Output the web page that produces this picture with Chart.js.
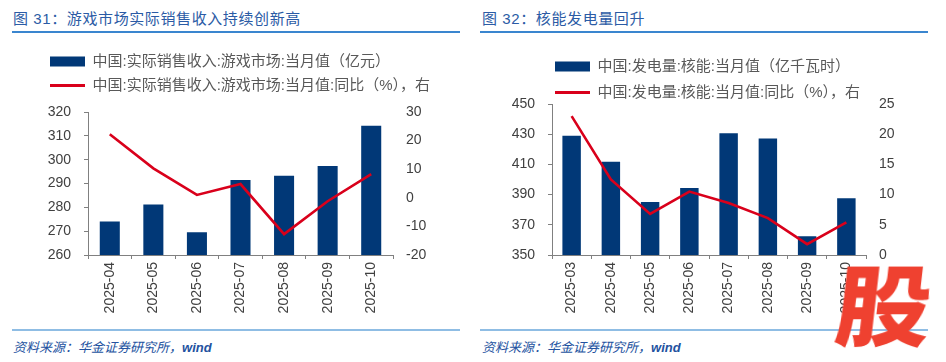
<!DOCTYPE html>
<html>
<head>
<meta charset="utf-8">
<script src="https://cdn.jsdelivr.net/npm/chart.js@4/dist/chart.umd.min.js"></script>
<style>
  body { margin: 0; width: 946px; height: 362px; background: #fff; position: relative; overflow: hidden; font-family: "Liberation Sans", "Noto Sans CJK SC", sans-serif; }
  .title { position: absolute; top: 7px; font-size: 15px; color: #2b5ba5; letter-spacing: 0.6px; font-family: "Liberation Sans", "Noto Sans CJK SC", sans-serif; }
  .rule { position: absolute; height: 2px; background: #3a86cf; }
  .rule.bottom { background: #8fbde4; }
  .source { position: absolute; top: 337px; font-size: 13px; color: #2352a0; font-style: italic; }
  .box { position: absolute; }
  .logo { position: absolute; left: 842px; top: 257px; font-size: 100px; line-height: 1; font-weight: 900; color: #ef4130;
          font-family: "Noto Sans CJK SC", sans-serif; transform-origin: 0 0; transform: scale(0.95, 0.88) skewX(-6deg); }
</style>
</head>
<body>
<div class="title" style="left:13px">图 31：游戏市场实际销售收入持续创新高</div>
<div class="rule" style="left:12px; width:448px; top:31px"></div>
<div class="title" style="left:482px">图 32：核能发电量回升</div>
<div class="rule" style="left:480px; width:448px; top:31px"></div>

<div class="box" style="left:0; top:45px; width:465px; height:270px"><canvas id="gameChart"></canvas></div>
<div class="box" style="left:470px; top:48px; width:470px; height:267px"><canvas id="nuclearChart"></canvas></div>

<div class="rule bottom" style="left:12px; width:448px; top:329px"></div>
<div class="rule bottom" style="left:480px; width:448px; top:329px"></div>
<div class="source" style="left:13px">资料来源：华金证券研究所，<b>wind</b></div>
<div class="source" style="left:482px">资料来源：华金证券研究所，<b>wind</b></div>
<div class="logo">股</div>

<script>
// 图31 游戏市场
const gameMonths = ['2025-04', '2025-05', '2025-06', '2025-07', '2025-08', '2025-09', '2025-10'];
const gameRevenue = [274.1, 281.2, 269.5, 291.5, 293.3, 297.3, 314.2];
const gameYoy = [22.2, 10.3, 1.0, 4.8, -12.7, -1.2, 8.3];

// 图32 核能发电量
const nuclearMonths = ['2025-03', '2025-04', '2025-05', '2025-06', '2025-07', '2025-08', '2025-09', '2025-10'];
const nuclearOutput = [428.9, 411.8, 385.1, 394.4, 430.7, 427.1, 362.4, 387.6];
const nuclearYoy = [23.0, 12.5, 6.8, 10.5, 8.6, 6.1, 1.8, 5.4];

const barColor = '#013877';
const lineColor = '#d9001b';
const tickColor = '#404040';
const fontFamily = '"Liberation Sans", "Noto Sans CJK SC", sans-serif';

Chart.defaults.font.family = fontFamily;
Chart.defaults.animation = false;

// 调整图例位置：与绘图区的间距、水平偏移
function legendShift(gap, dx) {
  return {
    id: 'legendShift',
    afterInit(chart) {
      const fit = chart.legend.fit;
      chart.legend.fit = function () {
        fit.call(this);
        this.height += gap;
      };
    },
    afterLayout(chart) {
      chart.legend.left += dx;
      chart.legend.right += dx;
    }
  };
}

function makeChart(id, s) {
  return new Chart(document.getElementById(id), {
    data: {
      labels: s.labels,
      datasets: [
        {
          type: 'bar',
          label: s.barLabel,
          data: s.bars,
          backgroundColor: barColor,
          barPercentage: s.barPct,
          categoryPercentage: 1,
          yAxisID: 'y',
          order: 1
        },
        {
          type: 'line',
          label: s.lineLabel,
          data: s.line,
          borderColor: lineColor,
          backgroundColor: lineColor,
          borderWidth: 2.6,
          pointRadius: 0,
          tension: 0,
          yAxisID: 'y1',
          order: 0
        }
      ]
    },
    options: {
      responsive: true,
      maintainAspectRatio: false,
      layout: { padding: s.padding },
      plugins: {
        tooltip: { enabled: false },
        legend: {
          position: 'top',
          align: 'start',
          labels: {
            usePointStyle: true,
            pointStyleWidth: 35,
            boxHeight: 10,
            padding: s.legendPad,
            color: '#595959',
            font: { size: 15, family: fontFamily },
            generateLabels: (chart) => chart.data.datasets.map((ds, i) => ({
              text: ds.label,
              fillStyle: ds.backgroundColor,
              strokeStyle: ds.type === 'line' ? ds.borderColor : ds.backgroundColor,
              lineWidth: ds.type === 'line' ? 3 : 0,
              pointStyle: ds.type === 'line' ? 'line' : 'rect',
              fontColor: '#595959',
              hidden: false,
              datasetIndex: i
            }))
          }
        }
      },
      scales: {
        x: {
          offset: true,
          grid: { drawOnChartArea: false, tickLength: 4, color: '#808080', tickColor: '#808080' },
          border: { color: '#808080', width: 1 },
          ticks: { color: tickColor, font: { size: 14 }, minRotation: 90, maxRotation: 90, padding: 3, autoSkip: false },
          afterFit: (scale) => { scale.height = 60; }
        },
        y: {
          position: 'left',
          min: s.yMin, max: s.yMax,
          grid: { drawOnChartArea: false, tickLength: 4, color: '#808080', tickColor: '#808080' },
          border: { color: '#808080', width: 1 },
          ticks: { stepSize: s.yStep, color: tickColor, font: { size: 14 }, padding: 13 },
          afterFit: (scale) => { scale.width = s.leftWidth; }
        },
        y1: {
          position: 'right',
          min: s.y1Min, max: s.y1Max,
          grid: { display: false, drawTicks: false },
          border: { display: false },
          ticks: { stepSize: s.y1Step, color: tickColor, font: { size: 14 }, padding: 13 },
          afterFit: (scale) => { scale.width = 40; }
        }
      }
    },
    plugins: [legendShift(s.gap, s.legendX)]
  });
}

makeChart('gameChart', {
  labels: gameMonths,
  bars: gameRevenue,
  line: gameYoy,
  barLabel: '中国:实际销售收入:游戏市场:当月值（亿元）',
  lineLabel: '中国:实际销售收入:游戏市场:当月值:同比（%），右',
  barPct: 0.46,
  padding: { left: 10, right: 32, top: 0, bottom: 0 },
  legendPad: 9,
  gap: 9,
  legendX: 31,
  yMin: 260, yMax: 320, yStep: 10,
  y1Min: -20, y1Max: 30, y1Step: 10,
  leftWidth: 78
});

makeChart('nuclearChart', {
  labels: nuclearMonths,
  bars: nuclearOutput,
  line: nuclearYoy,
  barLabel: '中国:发电量:核能:当月值（亿千瓦时）',
  lineLabel: '中国:发电量:核能:当月值:同比（%），右',
  barPct: 0.47,
  padding: { left: 10, right: 34, top: 0, bottom: 0 },
  legendPad: 11,
  gap: -6,
  legendX: 64,
  yMin: 350, yMax: 450, yStep: 20,
  y1Min: 0, y1Max: 25, y1Step: 5,
  leftWidth: 72
});
</script>
</body>
</html>
